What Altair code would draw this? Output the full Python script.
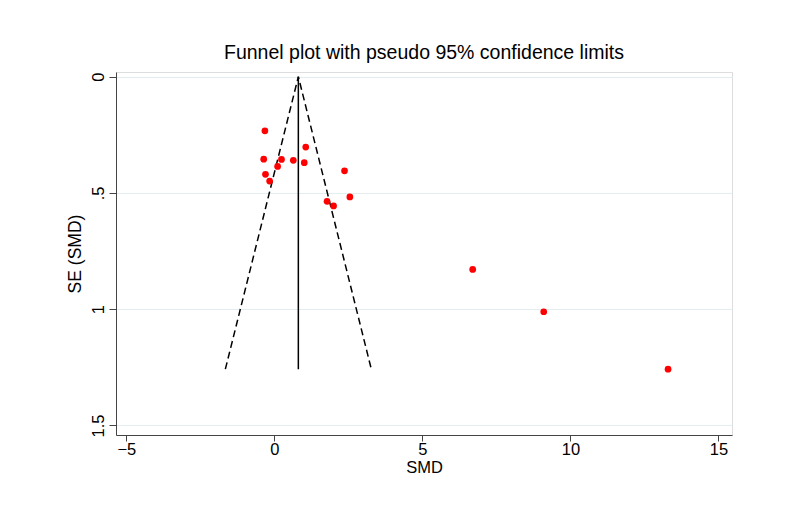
import altair as alt
import pandas as pd

# Study effect sizes (SMD) and their standard errors
smd = [-0.32, 1.06, -0.36, 0.24, 0.64, 1.01, 0.11, 2.37, -0.30, -0.16,
       2.55, 1.78, 2.00, 6.70, 9.10, 13.30]
se = [0.233, 0.303, 0.355, 0.356, 0.360, 0.370, 0.386, 0.405, 0.420, 0.449,
      0.517, 0.536, 0.556, 0.829, 1.011, 1.258]

pooled = 0.81          # fixed-effect pooled SMD (vertical line)
se_max = max(se)       # funnel drawn down to the largest SE

x_ticks = [-5, 0, 5, 10, 15]
y_ticks = [0, 0.5, 1, 1.5]

points = pd.DataFrame({"SMD": smd, "SE": se})
funnel = pd.DataFrame({
    "SMD": [pooled - 1.96 * se_max, pooled, pooled + 1.96 * se_max],
    "SE": [se_max, 0, se_max],
    "o": [0, 1, 2],
})
center = pd.DataFrame({"SMD": [pooled], "SE": [0.0], "SE2": [se_max]})

FONT = "Liberation Sans"
AX = 16.5

xscale = alt.Scale(domain=[-5.35, 15.46], nice=False, zero=False)
yscale = alt.Scale(domain=[-0.02, 1.541], nice=False, zero=False, reverse=True)

xaxis = alt.Axis(values=x_ticks, grid=False, tickSize=6, labelFontSize=AX,
                 titleFontSize=AX, labelFont=FONT, titleFont=FONT,
                 labelColor="black", titleColor="black", titleFontWeight="normal",
                 domainColor="#444444", tickColor="#444444", labelPadding=0,
                 titlePadding=2, labelFlush=False)
yaxis = alt.Axis(values=y_ticks, grid=True, gridColor="#e3ecef", tickSize=7,
                 labelAngle=270, labelAlign="center", labelBaseline="bottom",
                 labelExpr="datum.value == 0.5 ? '.5' : format(datum.value, '~g')",
                 labelFontSize=AX, titleFontSize=17.5, labelFont=FONT, titleFont=FONT,
                 labelColor="black", titleColor="black", titleFontWeight="normal",
                 domainColor="#444444", tickColor="#444444", labelPadding=3,
                 titlePadding=6, labelFlush=False)

base_x = alt.X("SMD:Q", scale=xscale, axis=xaxis, title="SMD")
base_y = alt.Y("SE:Q", scale=yscale, axis=yaxis, title="SE (SMD)")

funnel_layer = alt.Chart(funnel).mark_line(
    color="black", strokeDash=[7, 4], strokeWidth=1.5
).encode(x=base_x, y=base_y, order="o:Q")

center_layer = alt.Chart(center).mark_rule(color="black", strokeWidth=1.5).encode(
    x=alt.X("SMD:Q", scale=xscale),
    y=alt.Y("SE:Q", scale=yscale),
    y2="SE2:Q",
)

point_layer = alt.Chart(points).mark_circle(color="red", opacity=1, size=45).encode(
    x=alt.X("SMD:Q", scale=xscale),
    y=alt.Y("SE:Q", scale=yscale),
)

chart = alt.layer(funnel_layer, center_layer, point_layer).properties(
    width=616,
    height=363,
    title=alt.TitleParams("Funnel plot with pseudo 95% confidence limits",
                          font=FONT, fontSize=19.5, fontWeight="normal",
                          color="black", anchor="middle", offset=9),
    autosize=alt.AutoSizeParams(type="none"),
    padding={"left": 108, "top": 64, "right": 50, "bottom": 70},
).configure_view(stroke=None).configure(background="white")

chart.save("out.html", embed_options={"renderer": "svg", "actions": False})
